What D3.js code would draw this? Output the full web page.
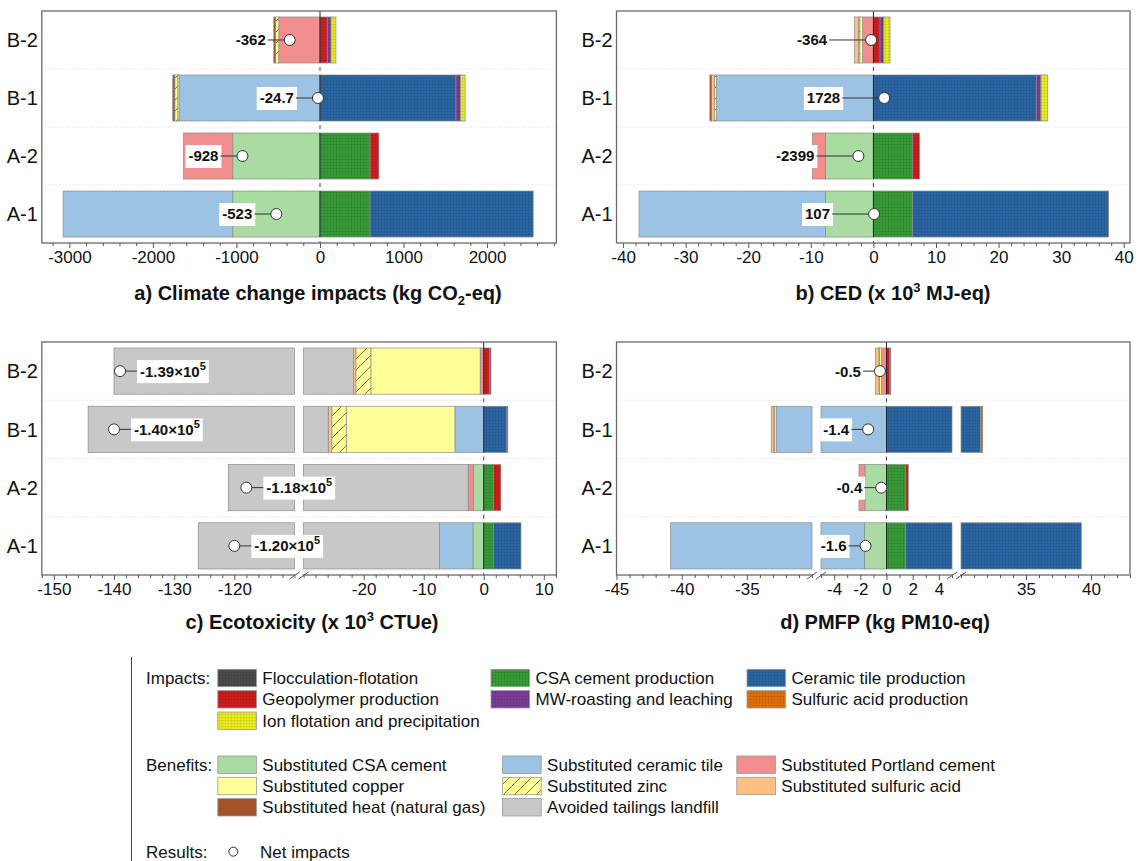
<!DOCTYPE html>
<html><head><meta charset="utf-8">
<script src="https://cdn.jsdelivr.net/npm/d3@7"></script>
<style>
body{margin:0;background:#fff}
svg{display:block;font-family:"Liberation Sans",Arial,Helvetica,sans-serif}
</style></head><body>
<svg id="chart" width="1141" height="861"></svg>
<script>
// Scenarios, listed bottom to top on each panel
const scenarios = ["A-1", "A-2", "B-1", "B-2"];

// Benefit categories, stacked leftward from zero in this order
const benefitNames = ["Substituted CSA cement", "Substituted ceramic tile", "Substituted Portland cement",
  "Substituted copper", "Substituted zinc", "Substituted sulfuric acid",
  "Substituted heat (natural gas)", "Avoided tailings landfill"];
// Impact categories, stacked rightward from zero in this order
const impactNames = ["CSA cement production", "Ceramic tile production", "Geopolymer production",
  "MW-roasting and leaching", "Ion flotation and precipitation", "Sulfuric acid production",
  "Flocculation-flotation"];

// a) Climate change, kg CO2-eq  (columns: A-1, A-2, B-1, B-2)
const climateBenefits = [
  [-1044, -1044, 0, 0], [-2031, 0, -1687, 0], [0, -589, 0, -493], [0, 0, -15, 0],
  [0, 0, -36, -39], [0, 0, 0, 0], [0, 0, -24, -21], [0, 0, 0, 0]];
const climateImpacts = [
  [600, 600, 0, 0], [1952, 0, 1628, 0], [0, 105, 0, 87], [0, 0, 53, 45],
  [0, 0, 56, 59], [0, 0, 0, 0], [0, 0, 0, 0]];
const climateNet = [-523, -928, -24.7, -362];

// b) CED, 10^3 MJ-eq
const cedBenefits = [
  [-7.67, -7.67, 0, 0], [-29.79, 0, -25.06, 0], [0, -2.09, 0, -1.72], [0, 0, 0, -0.45],
  [0, 0, -0.32, -0.22], [0, 0, -0.48, -0.62], [0, 0, -0.27, 0], [0, 0, 0, 0]];
const cedImpacts = [
  [6.27, 6.27, 0, 0], [31.3, 0, 26.02, 0], [0, 1.1, 0, 1.06], [0, 0, 0.75, 0.59],
  [0, 0, 1.1, 1.01], [0, 0, 0, 0], [0, 0, 0, 0]];
const cedNet = [0.107, -2.399, 1.728, -0.364];

// c) Ecotoxicity, 10^3 CTUe
const ecoBenefits = [
  [-1.8, -1.7, 0, 0], [-5.6, 0, -4.8, 0], [0, -0.9, 0, -0.6], [0, 0, -18.1, -18.2],
  [0, 0, -2.4, -2.5], [0, 0, -0.6, -0.4], [0, 0, 0, 0], [-118.6, -118.4, -118.4, -118.3]];
const ecoImpacts = [
  [1.6, 1.65, 0, 0], [4.6, 0, 3.85, 0], [0, 1.2, 0, 1.0], [0, 0, 0.15, 0.2],
  [0, 0, 0, 0], [0, 0, 0, 0], [0, 0, 0, 0]];
const ecoNet = [-120, -118, -140, -139];

// d) PMFP, kg PM10-eq
const pmBenefits = [
  [-1.67, -1.65, 0, 0], [-39.18, 0, -32.75, 0], [0, -0.45, 0, -0.37], [0, 0, -0.15, -0.16],
  [0, 0, -0.03, -0.04], [0, 0, -0.2, -0.26], [0, 0, 0, 0], [0, 0, 0, 0]];
const pmImpacts = [
  [1.47, 1.47, 0, 0], [37.78, 0, 31.5, 0], [0, 0.19, 0, 0.24], [0, 0, 0, 0.05],
  [0, 0, 0, 0.04], [0, 0, 0.17, 0], [0, 0, 0, 0]];
const pmNet = [-1.6, -0.4, -1.4, -0.5];

// Axis tick values per panel
const climateTicks = [-3000, -2000, -1000, 0, 1000, 2000];
const cedTicks = [-40, -30, -20, -10, 0, 10, 20, 30, 40];
const ecoTicks = [-150, -140, -130, -120, -20, -10, 0, 10];
const pmTicks = [-45, -40, -35, -4, -2, 0, 2, 4, 35, 40];

// Colours
const benefitColors = ["#a9dba3", "#9cc3e3", "#f28e8e", "#ffff99", "#ffff99", "#fdbf82", "#a5522b", "#c8c8c8"];
const impactColors = ["#379b37", "#2a66a4", "#d01d1d", "#7a3c98", "#eded1f", "#e2700d", "#4b4b4b"];

const svg = d3.select("#chart");
const defs = svg.append("defs");

function meshPattern(id, color) {
  const p = defs.append("pattern").attr("id", id).attr("patternUnits", "userSpaceOnUse")
    .attr("width", 3).attr("height", 3);
  p.append("rect").attr("width", 3).attr("height", 3).attr("fill", color);
  p.append("path").attr("d", "M0,0.5H3M0.5,0V3").attr("stroke", d3.color(color).darker(0.8))
    .attr("stroke-width", 1).attr("stroke-opacity", 0.3);
}
function hatchPattern(id, color) {
  const s = 11;
  const p = defs.append("pattern").attr("id", id).attr("patternUnits", "userSpaceOnUse")
    .attr("width", s).attr("height", s);
  p.append("rect").attr("width", s).attr("height", s).attr("fill", color);
  p.append("path").attr("d", `M0,${s}L${s},0M-2,2L2,-2M${s - 2},${s + 2}L${s + 2},${s - 2}`)
    .attr("stroke", "#6b6b40").attr("stroke-width", 0.9);
}

const benefitFill = benefitNames.map((n, i) => {
  if (n === "Substituted zinc") { hatchPattern("bf" + i, benefitColors[i]); return `url(#bf${i})`; }
  return benefitColors[i];
});
const impactFill = impactNames.map((n, i) => { meshPattern("if" + i, impactColors[i]); return `url(#if${i})`; });

// Panel frames and broken-axis segments
const panels = [
  { x0: 41.8, x1: 556.4, y0: 11, y1: 243, titleX: 318, titleY: 300,
    segs: [{ d: [-3330, 2830], r: [41.8, 556.4] }], ticks: climateTicks, minor: 200,
    benefits: climateBenefits, impacts: climateImpacts, net: climateNet,
    fmt: d => String(d), side: "left", gap: 22,
    title: t => { t.append("tspan").text("a) Climate change impacts (kg CO");
      t.append("tspan").attr("font-size", 13).attr("dy", 5).text("2");
      t.append("tspan").attr("dy", -5).text("-eq)"); } },
  { x0: 616.5, x1: 1130, y0: 11, y1: 243, titleX: 893, titleY: 300,
    segs: [{ d: [-41.05, 41.0], r: [616.5, 1130] }], ticks: cedTicks, minor: 2,
    benefits: cedBenefits, impacts: cedImpacts, net: cedNet,
    fmt: d => String(Math.round(d * 1000)), side: "left", gap: 42,
    title: t => { t.append("tspan").text("b) CED (x 10");
      t.append("tspan").attr("font-size", 13).attr("dy", -8).text("3");
      t.append("tspan").attr("dy", 8).text(" MJ-eq)"); } },
  { x0: 41.8, x1: 556.4, y0: 342, y1: 575, titleX: 312, titleY: 629,
    segs: [{ d: [-152, -110], r: [41.8, 294.5] }, { d: [-30, 12.1], r: [303.6, 556.4] }],
    ticks: ecoTicks, minor: 2,
    benefits: ecoBenefits, impacts: ecoImpacts, net: ecoNet,
    fmt: null, side: "right", gap: 17,
    title: t => { t.append("tspan").text("c) Ecotoxicity (x 10");
      t.append("tspan").attr("font-size", 13).attr("dy", -8).text("3");
      t.append("tspan").attr("dy", 8).text(" CTUe)"); } },
  { x0: 616.5, x1: 1130, y0: 342, y1: 575, titleX: 885, titleY: 629,
    segs: [{ d: [-45, -30], r: [616.5, 812] }, { d: [-5, 5], r: [821, 952] }, { d: [30, 43], r: [961, 1130] }],
    ticks: pmTicks, minor: 1,
    benefits: pmBenefits, impacts: pmImpacts, net: pmNet,
    fmt: d => d.toFixed(1), side: "left", gap: 17,
    title: t => { t.append("tspan").text("d) PMFP (kg PM10-eq)"); } }
];

function drawPanel(p) {
  const g = svg.append("g");
  const scales = p.segs.map(s => d3.scaleLinear().domain(s.d).range(s.r));
  const xAt = v => {
    for (const s of scales) { const [a, b] = s.domain(); if (v >= a && v <= b) return s(v); }
    return scales[0](v);
  };
  const y = d3.scaleBand().domain(scenarios.slice().reverse()).range([p.y0, p.y1])
    .paddingInner(0.207).paddingOuter(0.103);
  const step = y.step();

  // row separators
  for (let i = 1; i < scenarios.length; i++) {
    g.append("line").attr("x1", p.x0).attr("x2", p.x1)
      .attr("y1", p.y0 + step * i).attr("y2", p.y0 + step * i)
      .attr("stroke", "#d8d8d8").attr("stroke-dasharray", "1,2").attr("stroke-width", 1);
  }

  // stacked pieces, split across axis segments
  const piece = (a, b, rowY, fill) => {
    scales.forEach(s => {
      const [d0, d1] = s.domain();
      const lo = Math.max(a, d0), hi = Math.min(b, d1);
      if (hi > lo) {
        g.append("rect").attr("x", s(lo)).attr("width", s(hi) - s(lo))
          .attr("y", rowY).attr("height", y.bandwidth())
          .attr("fill", fill).attr("stroke", "#8a8a8a").attr("stroke-width", 0.7);
      }
    });
  };
  scenarios.forEach((sc, j) => {
    const rowY = y(sc);
    let acc = 0;
    p.benefits.forEach((row, i) => {
      const v = row[j]; if (!v) return;
      piece(acc + v, acc, rowY, benefitFill[i]); acc += v;
    });
    acc = 0;
    p.impacts.forEach((row, i) => {
      const v = row[j]; if (!v) return;
      piece(acc, acc + v, rowY, impactFill[i]); acc += v;
    });
  });

  // zero line: solid through the bars, short dashes between rows
  const zx = xAt(0);
  g.append("line").attr("x1", zx).attr("x2", zx).attr("y1", p.y0).attr("y2", y("B-2") + y.bandwidth())
    .attr("stroke", "#222").attr("stroke-width", 1);
  ["B-1", "A-2", "A-1"].forEach(sc => {
    g.append("line").attr("x1", zx).attr("x2", zx).attr("y1", y(sc)).attr("y2", y(sc) + y.bandwidth())
      .attr("stroke", "#222").attr("stroke-width", 1);
  });
  for (let i = 1; i <= scenarios.length; i++) {
    const yy = p.y0 + step * i;
    g.append("line").attr("x1", zx).attr("x2", zx).attr("y1", yy - 2).attr("y2", Math.min(yy + 2, p.y1))
      .attr("stroke", "#444").attr("stroke-width", 1);
  }

  // frame
  g.append("rect").attr("x", p.x0).attr("y", p.y0).attr("width", p.x1 - p.x0).attr("height", p.y1 - p.y0)
    .attr("fill", "none").attr("stroke", "#6a6a6a").attr("stroke-width", 1.3);

  // bottom axes per segment
  scales.forEach(s => {
    const [d0, d1] = s.domain();
    const majors = p.ticks.filter(t => t >= d0 && t <= d1);
    const minors = d3.range(Math.ceil(d0 / p.minor) * p.minor, d1 + 1e-9, p.minor)
      .filter(t => !majors.some(m => Math.abs(m - t) < 1e-9));
    const ga = g.append("g").attr("transform", `translate(0,${p.y1})`)
      .call(d3.axisBottom(s).tickValues(majors).tickSize(5).tickPadding(3).tickFormat(d => d));
    ga.select(".domain").remove();
    ga.selectAll("line").attr("stroke", "#555");
    ga.selectAll("text").attr("font-size", 17).attr("fill", "#111")
      .attr("font-family", "'Liberation Sans',Arial,sans-serif");
    const gm = g.append("g").attr("transform", `translate(0,${p.y1})`)
      .call(d3.axisBottom(s).tickValues(minors).tickSize(3).tickFormat(""));
    gm.select(".domain").remove();
    gm.selectAll("line").attr("stroke", "#555");
  });

  // break markers between segments
  for (let i = 0; i < p.segs.length - 1; i++) {
    const a = p.segs[i].r[1], b = p.segs[i + 1].r[0];
    g.append("rect").attr("x", a + 1).attr("y", p.y1 - 2).attr("width", b - a - 2).attr("height", 4).attr("fill", "#fff");
    [a, b].forEach(x => {
      g.append("line").attr("x1", x - 5).attr("y1", p.y1 + 4).attr("x2", x + 5).attr("y2", p.y1 - 3)
        .attr("stroke", "#555").attr("stroke-width", 1);
    });
  }

  // category labels
  scenarios.forEach(sc => {
    g.append("text").attr("x", p.x0 - 4).attr("y", y(sc) + y.bandwidth() / 2).attr("dy", "0.36em")
      .attr("text-anchor", "end").attr("font-size", 20).attr("fill", "#111").text(sc);
  });

  // net impact markers with value labels
  scenarios.forEach((sc, j) => {
    const v = p.net[j];
    const cx = xAt(v), cy = y(sc) + y.bandwidth() / 2;
    const lab = g.append("g");
    const t = lab.append("text").attr("y", cy).attr("dy", "0.36em").attr("font-size", 15)
      .attr("font-weight", "bold").attr("fill", "#111");
    if (p.fmt) t.text(p.fmt(v));
    else {
      t.append("tspan").text((v / 100).toFixed(2) + "\u00d710");
      t.append("tspan").attr("font-size", 11).attr("dy", -7).text("5");
    }
    const w = t.node().getComputedTextLength();
    const tx = p.side === "left" ? cx - p.gap - w - 2 : cx + p.gap + 3;
    t.attr("x", tx);
    lab.insert("rect", "text").attr("x", tx - 3).attr("y", cy - 11).attr("width", w + 6).attr("height", 23)
      .attr("fill", "#fff");
    const lx = p.side === "left" ? cx - p.gap : cx + p.gap;
    lab.insert("line", "text").attr("x1", lx).attr("x2", cx).attr("y1", cy).attr("y2", cy)
      .attr("stroke", "#333").attr("stroke-width", 1);
    lab.append("circle").attr("cx", cx).attr("cy", cy).attr("r", 5.5)
      .attr("fill", "#fff").attr("stroke", "#333").attr("stroke-width", 1);
  });

  // title
  const tt = g.append("text").attr("x", p.titleX).attr("y", p.titleY).attr("text-anchor", "middle")
    .attr("font-size", 20).attr("font-weight", "bold").attr("fill", "#111");
  p.title(tt);
}
panels.forEach(drawPanel);

// Legend
const lg = svg.append("g").attr("font-size", 17).attr("fill", "#111");
lg.append("line").attr("x1", 131.5).attr("x2", 131.5).attr("y1", 657).attr("y2", 861)
  .attr("stroke", "#444").attr("stroke-width", 1);
const impactRows = [["Flocculation-flotation", "CSA cement production", "Ceramic tile production"],
  ["Geopolymer production", "MW-roasting and leaching", "Sulfuric acid production"],
  ["Ion flotation and precipitation"]];
const benefitRows = [["Substituted CSA cement", "Substituted ceramic tile", "Substituted Portland cement"],
  ["Substituted copper", "Substituted zinc", "Substituted sulfuric acid"],
  ["Substituted heat (natural gas)", "Avoided tailings landfill"]];
function legendBlock(label, rows, cols, rowY, fillOf) {
  lg.append("text").attr("x", 146).attr("y", rowY[0] + 6).text(label);
  rows.forEach((r, ri) => r.forEach((name, ci) => {
    const cy = rowY[ri];
    lg.append("rect").attr("x", cols[ci]).attr("y", cy - 8.7).attr("width", 38.6).attr("height", 17.4)
      .attr("fill", fillOf(name)).attr("stroke", "#999").attr("stroke-width", 0.8);
    lg.append("text").attr("x", cols[ci] + 44.5).attr("y", cy + 6).text(name);
  }));
}
legendBlock("Impacts:", impactRows, [217.8, 491, 747], [678, 699.3, 720.7],
  n => impactFill[impactNames.indexOf(n)]);
legendBlock("Benefits:", benefitRows, [217.8, 502.6, 736.8], [764.7, 786, 807.3],
  n => benefitFill[benefitNames.indexOf(n)]);
lg.append("text").attr("x", 146).attr("y", 857.7).text("Results:");
lg.append("circle").attr("cx", 233.3).attr("cy", 851.7).attr("r", 4.5).attr("fill", "#fff")
  .attr("stroke", "#333").attr("stroke-width", 1);
lg.append("text").attr("x", 260).attr("y", 857.7).text("Net impacts");
</script>
</body></html>
